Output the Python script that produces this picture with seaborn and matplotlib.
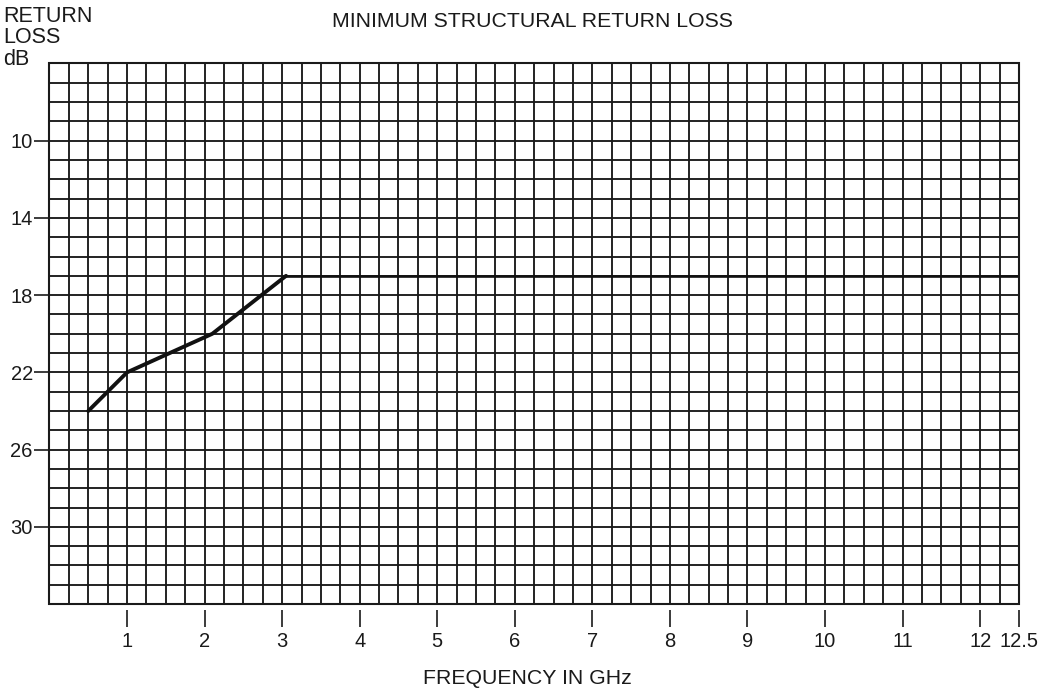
import numpy as np
import pandas as pd
import seaborn as sns
import matplotlib.pyplot as plt
from matplotlib.patches import Rectangle

# Values
rise_freq = [0.5, 1.0, 1.55, 2.1, 3.05]
rise_loss = [24.0, 22.0, 21.0, 20.0, 17.0]
flat_freq = [3.05, 12.5]
flat_loss = [17.0, 17.0]

x_ticks = [1, 2, 3, 4, 5, 6, 7, 8, 9, 10, 11, 12, 12.5]
x_labels = ['1', '2', '3', '4', '5', '6', '7', '8', '9', '10', '11', '12', '12.5']
y_ticks = [10, 14, 18, 22, 26, 30]

sns.set_theme(style='white')
plt.rcParams['font.family'] = ['Liberation Sans', 'DejaVu Sans']

fig = plt.figure(figsize=(10.44, 7), dpi=100)
ax = fig.add_axes([0.0474, 0.1371, 0.9286, 0.7722])

ink = '#1a1a1a'

# grid: 0.25 GHz by 1 dB (major ticks also get a grid line so no gaps)
ax.set_xticks(np.arange(0, 12.51, 0.25), minor=True)
ax.set_yticks(np.arange(6, 34.01, 1), minor=True)
ax.grid(which='both', color=ink, lw=1.35)

rise = pd.DataFrame({'freq': rise_freq, 'loss': rise_loss})
flat = pd.DataFrame({'freq': flat_freq, 'loss': flat_loss})
sns.lineplot(data=rise, x='freq', y='loss', ax=ax, color='#111111', lw=2.8, sort=False)
sns.lineplot(data=flat, x='freq', y='loss', ax=ax, color='#111111', lw=1.9, sort=False)

ax.set_xlim(0, 12.5)
ax.set_ylim(34, 6)

ax.set_xticks(x_ticks)
ax.set_xticklabels(x_labels)
ax.set_yticks(y_ticks)
ax.set_yticklabels([str(v) for v in y_ticks])
ax.tick_params(axis='x', which='major', direction='out', length=12, width=1.2,
               color=ink, pad=4, labelsize=14.5, labelcolor=ink, bottom=True)
ax.tick_params(axis='y', which='major', direction='out', length=10, width=1.2,
               color=ink, pad=1, labelsize=14.5, labelcolor=ink, left=True)
ax.tick_params(which='minor', length=0)

# ticks under the frame sit a little apart from it
for side in ['top', 'right', 'left', 'bottom']:
    ax.spines[side].set_visible(False)
ax.spines['bottom'].set_position(('outward', 4))
ax.spines['left'].set_position(('outward', 1))
ax.add_patch(Rectangle((0, 0), 1, 1, transform=ax.transAxes, fill=False,
                       edgecolor=ink, lw=1.5, clip_on=False, zorder=5))

ax.set_xlabel('')
ax.set_ylabel('')

fig.text(0.51, 0.969, 'MINIMUM STRUCTURAL RETURN LOSS', ha='center', va='center',
         fontsize=15.3, color=ink)
fig.text(0.505, 0.031, 'FREQUENCY IN GHz', ha='center', va='center',
         fontsize=15.3, color=ink)
fig.text(0.003, 0.992, 'RETURN\nLOSS\ndB', ha='left', va='top',
         fontsize=15.5, color=ink, linespacing=1.05)

fig.savefig('out.png', dpi=100, facecolor='white')
